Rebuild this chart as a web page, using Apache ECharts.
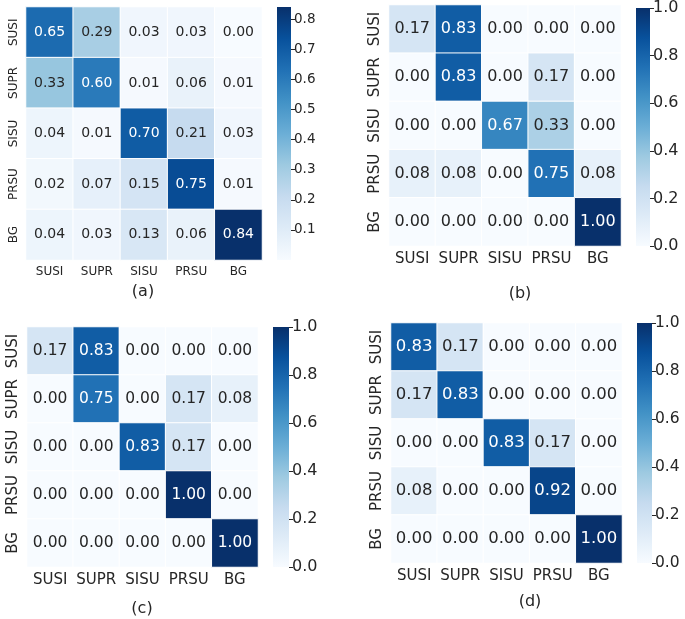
<!DOCTYPE html>
<html><head><meta charset="utf-8">
<script src="https://cdn.jsdelivr.net/npm/echarts@6/dist/echarts.min.js"></script>
<style>html,body{margin:0;padding:0;background:#fff}#c{width:685px;height:619px}</style>
</head><body><div id="c"></div>
<script>
const categories = ['SUSI', 'SUPR', 'SISU', 'PRSU', 'BG'];
const matA = [
  [0.65, 0.29, 0.03, 0.03, 0.00],
  [0.33, 0.60, 0.01, 0.06, 0.01],
  [0.04, 0.01, 0.70, 0.21, 0.03],
  [0.02, 0.07, 0.15, 0.75, 0.01],
  [0.04, 0.03, 0.13, 0.06, 0.84]
];
const matB = [
  [0.17, 0.83, 0.00, 0.00, 0.00],
  [0.00, 0.83, 0.00, 0.17, 0.00],
  [0.00, 0.00, 0.67, 0.33, 0.00],
  [0.08, 0.08, 0.00, 0.75, 0.08],
  [0.00, 0.00, 0.00, 0.00, 1.00]
];
const matC = [
  [0.17, 0.83, 0.00, 0.00, 0.00],
  [0.00, 0.75, 0.00, 0.17, 0.08],
  [0.00, 0.00, 0.83, 0.17, 0.00],
  [0.00, 0.00, 0.00, 1.00, 0.00],
  [0.00, 0.00, 0.00, 0.00, 1.00]
];
const matD = [
  [0.83, 0.17, 0.00, 0.00, 0.00],
  [0.17, 0.83, 0.00, 0.00, 0.00],
  [0.00, 0.00, 0.83, 0.17, 0.00],
  [0.08, 0.00, 0.00, 0.92, 0.00],
  [0.00, 0.00, 0.00, 0.00, 1.00]
];
const panelLabels = ['(a)', '(b)', '(c)', '(d)'];
const colorMax = [0.84, 1.0, 1.0, 1.0];
const cbTicksA = [0.1, 0.2, 0.3, 0.4, 0.5, 0.6, 0.7, 0.8];
const cbTicksOther = [0.0, 0.2, 0.4, 0.6, 0.8, 1.0];

const blues = ['#f7fbff','#deebf7','#c6dbef','#9ecae1','#6baed6','#4292c6','#2171b5','#08519c','#08306b'];
const FONT = 'DejaVu Sans';
const DARK = '#262626';

const panels = [
  {mat: matA, grid: {left: 26, top: 7, width: 236, height: 253}, cb: {left: 277, top: 7, width: 14, height: 253},
   cellFont: 14, axFont: 12, cbFont: 13.5, ticks: cbTicksA, title: {x: 143, y: 284}},
  {mat: matB, grid: {left: 389, top: 5, width: 232, height: 241}, cb: {left: 636, top: 5, width: 14, height: 241},
   cellFont: 16, axFont: 15, cbFont: 16, ticks: cbTicksOther, title: {x: 520, y: 286}},
  {mat: matC, grid: {left: 27, top: 327, width: 231, height: 240}, cb: {left: 273, top: 327, width: 16, height: 240},
   cellFont: 15.5, axFont: 15, cbFont: 16, ticks: cbTicksOther, title: {x: 142, y: 601}},
  {mat: matD, grid: {left: 391, top: 323, width: 231, height: 240}, cb: {left: 637, top: 323, width: 15, height: 240},
   cellFont: 16.5, axFont: 15, cbFont: 15.5, ticks: cbTicksOther, title: {x: 530, y: 594}}
];

const grids = [], xAxes = [], yAxes = [], series = [], visualMaps = [], titles = [];
panels.forEach((p, k) => {
  const vmax = colorMax[k];
  grids.push(Object.assign({containLabel: false}, p.grid));
  const hg = grids.length - 1;
  xAxes.push({type: 'category', gridIndex: hg, data: categories, position: 'bottom',
    axisLine: {show: false}, axisTick: {show: false}, splitLine: {show: false},
    axisLabel: {interval: 0, fontFamily: FONT, fontSize: p.axFont, color: DARK, margin: 6}});
  yAxes.push({type: 'category', gridIndex: hg, data: categories, inverse: true,
    axisLine: {show: false}, axisTick: {show: false}, splitLine: {show: false},
    axisLabel: {interval: 0, fontFamily: FONT, fontSize: p.axFont, color: DARK, margin: 6, rotate: 90}});
  const data = [];
  p.mat.forEach((row, i) => row.forEach((v, j) => {
    data.push({value: [j, i, v], label: {color: (v / vmax) > 0.45 ? '#ffffff' : DARK}});
  }));
  visualMaps.push({type: 'continuous', show: false, min: 0, max: vmax, seriesIndex: series.length,
    inRange: {color: blues}});
  series.push({type: 'heatmap', xAxisIndex: xAxes.length - 1, yAxisIndex: yAxes.length - 1, data: data,
    itemStyle: {borderColor: '#ffffff', borderWidth: 1},
    label: {show: true, fontFamily: FONT, fontSize: p.cellFont, formatter: (pp) => pp.value[2].toFixed(2)},
    emphasis: {disabled: true}, silent: true});
  grids.push(Object.assign({}, p.cb));
  const cg = grids.length - 1;
  xAxes.push({type: 'category', gridIndex: cg, data: ['cb'], show: false});
  yAxes.push({type: 'value', gridIndex: cg, min: 0, max: vmax, position: 'right',
    splitLine: {show: false}, axisLine: {show: false},
    axisTick: {show: true, length: 4, inside: false, customValues: p.ticks, lineStyle: {color: DARK}},
    axisLabel: {fontFamily: FONT, fontSize: p.cbFont, color: DARK, margin: 3, customValues: p.ticks,
      formatter: (v) => v.toFixed(1)}});
  series.push({type: 'bar', xAxisIndex: xAxes.length - 1, yAxisIndex: yAxes.length - 1, data: [vmax],
    barWidth: '100%', silent: true,
    itemStyle: {color: {type: 'linear', x: 0, y: 1, x2: 0, y2: 0,
      colorStops: blues.map((c, q) => ({offset: q / (blues.length - 1), color: c}))}}});
  titles.push({text: panelLabels[k], left: p.title.x, top: p.title.y, textAlign: 'center', padding: 0,
    textStyle: {fontFamily: FONT, fontSize: 16, fontWeight: 'normal', color: DARK}});
});

const chart = echarts.init(document.getElementById('c'), null, {renderer: 'canvas'});
chart.setOption({
  backgroundColor: '#ffffff',
  animation: false,
  title: titles,
  grid: grids,
  xAxis: xAxes,
  yAxis: yAxes,
  visualMap: visualMaps,
  series: series
});
</script>
</body></html>
